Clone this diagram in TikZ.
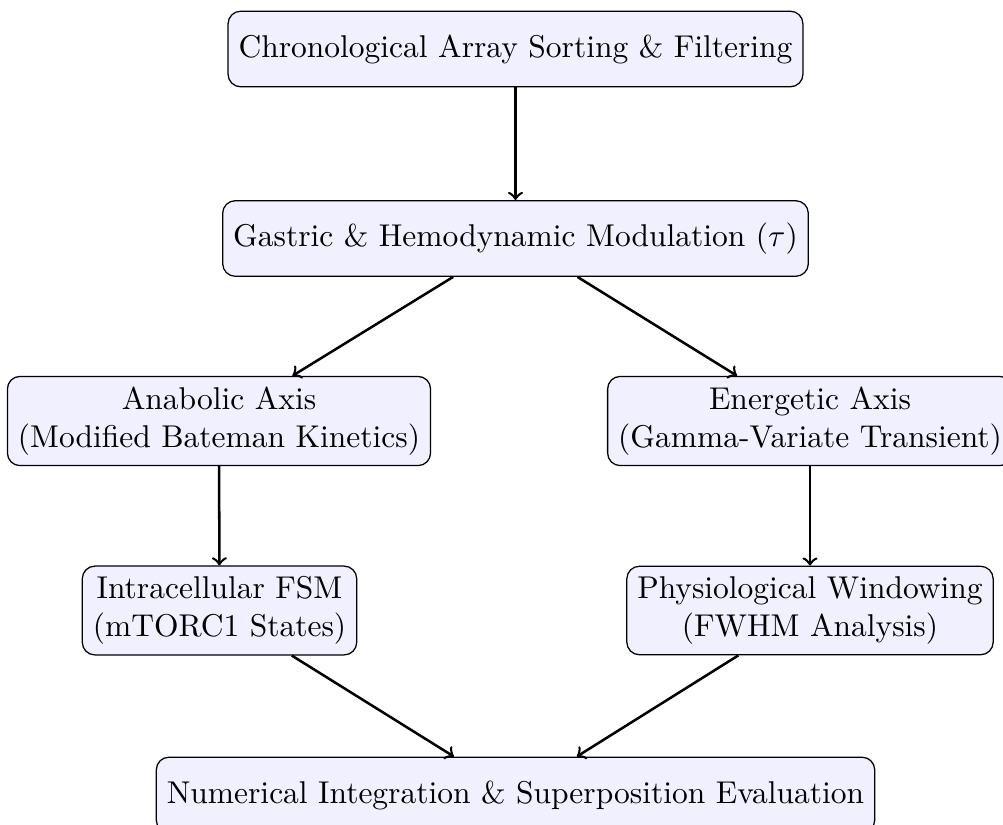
\documentclass[tikz,border=0pt]{standalone}
\usetikzlibrary{arrows}
\begin{document}
\begin{tikzpicture}[x=0.3175pt,y=-0.3175pt,
  box/.style={draw, rounded corners, fill=blue!6, align=center, minimum height=24pt, inner sep=3.33pt},
  conn/.style={->, thick}]
\useasboundingbox (0,0) rectangle (1003,824);
\node[box] (sort) at (515.5,49) {Chronological Array Sorting \& Filtering};
\node[box] (gast) at (515.5,238.5) {Gastric \& Hemodynamic Modulation ($\tau$)};
\node[box] (ana) at (219,421) {Anabolic Axis\\(Modified Bateman Kinetics)};
\node[box] (ene) at (810,421) {Energetic Axis\\(Gamma-Variate Transient)};
\node[box] (fsm) at (219.5,610.5) {Intracellular FSM\\(mTORC1 States)};
\node[box] (win) at (810,610.5) {Physiological Windowing\\(FWHM Analysis)};
\node[box] (num) at (515.5,795) {Numerical Integration \& Superposition Evaluation};
\draw[conn] (sort) -- (gast);
\draw[conn] (gast) -- (ana);
\draw[conn] (gast) -- (ene);
\draw[conn] (ana) -- (fsm);
\draw[conn] (ene) -- (win);
\draw[conn] (fsm) -- (num);
\draw[conn] (win) -- (num);
\end{tikzpicture}
\end{document}
